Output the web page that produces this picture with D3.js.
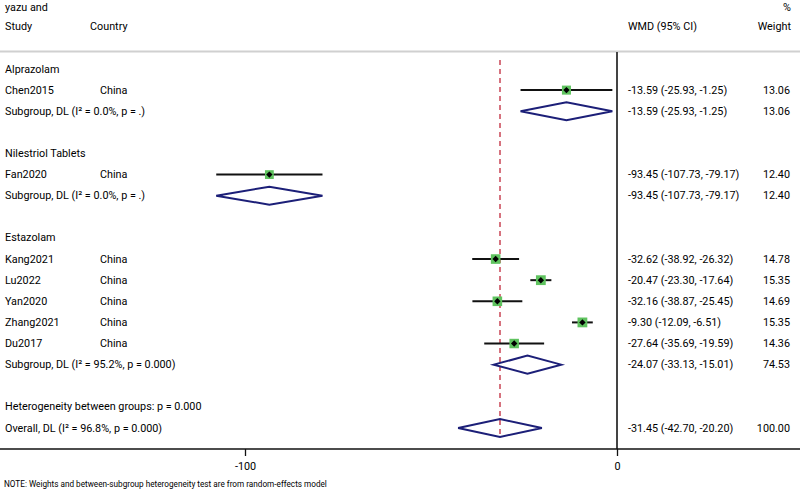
<!DOCTYPE html>
<html><head><meta charset="utf-8">
<script src="https://cdn.jsdelivr.net/npm/d3@7"></script>
<style>
body{margin:0;background:#fff;}
svg text{font-family:Roboto,"Noto Sans",sans-serif;font-size:10.8px;fill:#000;}
</style></head><body>
<svg id="chart" width="800" height="491"></svg>
<script>
// ---- data ----
const rowLabels = ["Alprazolam","Chen2015","Subgroup, DL (I² = 0.0%, p = .)","",
  "Nilestriol Tablets","Fan2020","Subgroup, DL (I² = 0.0%, p = .)","",
  "Estazolam","Kang2021","Lu2022","Yan2020","Zhang2021","Du2017","Subgroup, DL (I² = 95.2%, p = 0.000)","",
  "Heterogeneity between groups: p = 0.000","Overall, DL (I² = 96.8%, p = 0.000)"];
const rowKind = ["group","study","sub","blank","group","study","sub","blank",
  "group","study","study","study","study","study","sub","blank","het","overall"];
const rowCountry = ["","China","","","","China","","","","China","China","China","China","China","","","",""];
const rowEst = [null,-13.59,-13.59,null,null,-93.45,-93.45,null,null,-32.62,-20.47,-32.16,-9.30,-27.64,-24.07,null,null,-31.45];
const rowLo  = [null,-25.93,-25.93,null,null,-107.73,-107.73,null,null,-38.92,-23.30,-38.87,-12.09,-35.69,-33.13,null,null,-42.70];
const rowHi  = [null,-1.25,-1.25,null,null,-79.17,-79.17,null,null,-26.32,-17.64,-25.45,-6.51,-19.59,-15.01,null,null,-20.20];
const rowWeight = [null,13.06,13.06,null,null,12.40,12.40,null,null,14.78,15.35,14.69,15.35,14.36,74.53,null,null,100.00];
const xTicks = [-100, 0];
const overallEst = -31.45;
const headerLeft = ["yazu and","Study"];
const noteText = "NOTE: Weights and between-subgroup heterogeneity test are from random-effects model";

// ---- layout ----
const svg = d3.select("#chart");
const loc = d3.formatLocale({decimal:".",thousands:",",grouping:[3],currency:["",""],minus:"-"});
const f2 = loc.format(".2f");
const x = d3.scaleLinear().domain([-100, 0]).range([245, 617]);
const y = d3.scaleLinear().domain([0, 17]).range([69, 428]);
const axisY = 449;

// header
const hdr = (tx,ty,s,anchor)=>svg.append("text").attr("x",tx).attr("y",ty).attr("dominant-baseline","central").attr("text-anchor",anchor||"start").text(s);
hdr(5,7,headerLeft[0]);
hdr(5,26,headerLeft[1]);
hdr(90,26,"Country");
hdr(628,26,"WMD (95% CI)");
hdr(791,7,"%","end");
hdr(791,26,"Weight","end");
svg.append("line").attr("x1",0).attr("x2",800).attr("y1",51.5).attr("y2",51.5).attr("stroke","#d0d0d0").attr("stroke-width",2);

// zero line
svg.append("line").attr("x1",x(0)).attr("x2",x(0)).attr("y1",52).attr("y2",axisY).attr("stroke","#444").attr("stroke-width",2);
// overall dashed line
svg.append("line").attr("x1",x(overallEst)).attr("x2",x(overallEst)).attr("y1",60).attr("y2",438)
  .attr("stroke","#c0283a").attr("stroke-width",1.3).attr("stroke-dasharray","5,4");

const rows = rowLabels.map((l,i)=>({i,label:l,kind:rowKind[i],country:rowCountry[i],est:rowEst[i],lo:rowLo[i],hi:rowHi[i],w:rowWeight[i]}));

// labels
const g = svg.append("g");
rows.forEach(r=>{
  if(r.label) g.append("text").attr("x",5).attr("y",y(r.i)).attr("dominant-baseline","central").text(r.label);
  if(r.country) g.append("text").attr("x",100).attr("y",y(r.i)).attr("dominant-baseline","central").text(r.country);
  if(r.est!==null){
    g.append("text").attr("x",628).attr("y",y(r.i)).attr("dominant-baseline","central")
      .text(`${f2(r.est)} (${f2(r.lo)}, ${f2(r.hi)})`);
    g.append("text").attr("x",790).attr("y",y(r.i)).attr("text-anchor","end").attr("dominant-baseline","central")
      .text(f2(r.w));
  }
});

// studies
const st = rows.filter(r=>r.kind==="study");
svg.selectAll(".ci").data(st).join("line")
  .attr("x1",d=>x(d.lo)).attr("x2",d=>x(d.hi)).attr("y1",d=>y(d.i)).attr("y2",d=>y(d.i))
  .attr("stroke","#111").attr("stroke-width",2);
svg.selectAll(".sq").data(st).join("rect")
  .attr("x",d=>x(d.est)-1.25*Math.sqrt(d.w)).attr("y",d=>y(d.i)-1.25*Math.sqrt(d.w))
  .attr("width",d=>2.5*Math.sqrt(d.w)).attr("height",d=>2.5*Math.sqrt(d.w))
  .attr("fill","#5fc35f");
svg.selectAll(".dot").data(st).join("path")
  .attr("d",d=>{const cx=x(d.est),cy=y(d.i),r=3.2;return `M${cx-r},${cy}L${cx},${cy-r}L${cx+r},${cy}L${cx},${cy+r}Z`;})
  .attr("fill","#000");

// diamonds
const dm = rows.filter(r=>r.kind==="sub"||r.kind==="overall");
svg.selectAll(".dia").data(dm).join("path")
  .attr("d",d=>{const cy=y(d.i),h=9;return `M${x(d.lo)},${cy}L${x(d.est)},${cy-h}L${x(d.hi)},${cy}L${x(d.est)},${cy+h}Z`;})
  .attr("fill","none").attr("stroke","#1c1f78").attr("stroke-width",2);

// axis
svg.append("line").attr("x1",0).attr("x2",800).attr("y1",axisY).attr("y2",axisY).attr("stroke","#111").attr("stroke-width",1.5);
const ax = svg.append("g").attr("transform",`translate(0,${axisY})`)
  .call(d3.axisBottom(x).tickValues(xTicks).tickSize(7).tickPadding(6).tickFormat(loc.format("d")));
ax.select(".domain").remove();
ax.selectAll("line").attr("stroke","#111").attr("stroke-width",1.3);
ax.selectAll("text").style("font-family","Roboto,sans-serif").style("font-size","10.8px").attr("fill","#000");

svg.append("text").attr("x",4).attr("y",484).attr("dominant-baseline","central").style("font-size","8.2px").text(noteText);
</script></body></html>
